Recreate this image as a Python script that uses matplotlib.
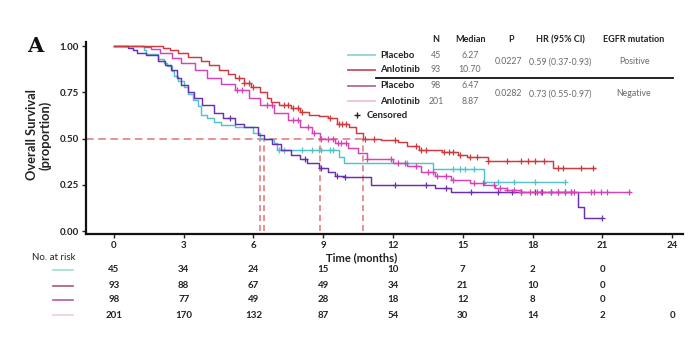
import numpy as np
import matplotlib
matplotlib.use("Agg")
import matplotlib.pyplot as plt
from matplotlib.lines import Line2D

plt.rcParams['font.family'] = ['Lato', 'DejaVu Sans']

# ---------------- data ----------------
# Kaplan-Meier step curves: event times (months) and survival after each step
pos_placebo_t = [1.3, 1.4, 1.9, 2.15, 2.3, 2.5, 2.6, 2.75, 3.0, 3.2, 3.4, 3.6, 3.75, 4.0, 4.3,
                 4.6, 5.2, 6.0, 6.27, 6.9, 7.0, 9.7, 9.9, 13.7, 15.9]
pos_placebo_s = [0.98, 0.955, 0.93, 0.91, 0.89, 0.865, 0.84, 0.81, 0.78, 0.74, 0.71, 0.675, 0.63,
                 0.61, 0.59, 0.575, 0.56, 0.53, 0.50, 0.475, 0.44, 0.40, 0.37, 0.335, 0.265]
pos_placebo_end = 19.4
pos_placebo_cens = [7.1, 7.3, 8.1, 8.5, 8.8, 8.9, 9.3, 9.4, 12.6, 14.6, 14.9, 15.1, 15.5,
                    16.5, 17.2, 18.1, 19.4]

pos_anlo_t = [2.1, 2.4, 2.75, 3.2, 3.75, 4.1, 4.5, 4.9, 5.2, 5.6, 5.9, 6.3, 6.6, 6.75, 7.1,
              7.6, 8.0, 8.4, 8.8, 9.2, 9.6, 10.1, 10.4, 10.7, 11.5, 12.2, 12.6, 13.1, 14.1,
              14.8, 15.2, 16.1, 18.9]
pos_anlo_s = [0.99, 0.98, 0.96, 0.94, 0.92, 0.90, 0.87, 0.85, 0.83, 0.80, 0.78, 0.75, 0.72,
              0.70, 0.68, 0.665, 0.645, 0.63, 0.62, 0.61, 0.58, 0.56, 0.53, 0.50, 0.49, 0.48,
              0.46, 0.44, 0.43, 0.41, 0.40, 0.38, 0.34]
pos_anlo_end = 20.7
pos_anlo_cens = [5.4, 5.6, 5.8, 6.0, 7.3, 7.5, 7.7, 7.9, 8.1, 9.3, 9.7, 9.8, 10.0, 10.8, 11.2,
                 12.1, 13.0, 13.2, 13.4, 14.2, 14.4, 14.6, 14.9, 15.3, 15.6, 16.1, 16.9, 17.5,
                 17.8, 18.1, 18.5, 19.1, 19.3, 20.1, 20.6]

neg_placebo_t = [0.6, 0.8, 1.0, 1.4, 1.9, 2.2, 2.45, 2.7, 2.9, 3.2, 3.45, 3.8, 4.3, 4.7, 5.2,
                 5.6, 6.2, 6.47, 6.8, 7.2, 7.6, 8.0, 8.3, 8.8, 9.2, 9.5, 9.9, 11.05, 13.8,
                 14.5, 19.95, 20.2]
neg_placebo_s = [0.99, 0.98, 0.96, 0.95, 0.92, 0.90, 0.87, 0.83, 0.79, 0.75, 0.72, 0.68, 0.64,
                 0.61, 0.58, 0.56, 0.52, 0.50, 0.47, 0.44, 0.41, 0.39, 0.37, 0.34, 0.32, 0.30,
                 0.29, 0.25, 0.235, 0.21, 0.13, 0.07]
neg_placebo_end = 21.0
neg_placebo_cens = [5.0, 8.2, 8.9, 9.6, 9.95, 12.1, 13.4, 14.3, 15.35, 16.5, 17.1, 17.5, 18.1,
                    18.4, 18.8, 19.1, 19.4, 19.65, 21.0]

neg_anlo_t = [1.3, 1.6, 2.0, 2.5, 2.9, 3.5, 4.0, 4.6, 5.2, 5.8, 6.3, 6.9, 7.5, 8.0, 8.5, 8.87,
              9.5, 10.05, 10.5, 10.9, 12.0, 12.6, 13.2, 13.8, 14.5, 15.3, 15.9, 16.4, 16.9,
              17.5]
neg_anlo_s = [0.995, 0.985, 0.96, 0.935, 0.91, 0.87, 0.83, 0.795, 0.76, 0.72, 0.68, 0.64, 0.60,
              0.56, 0.53, 0.50, 0.475, 0.45, 0.42, 0.39, 0.37, 0.35, 0.32, 0.30, 0.275, 0.26,
              0.25, 0.235, 0.22, 0.21]
neg_anlo_end = 22.2
neg_anlo_cens = [5.3, 5.5, 6.6, 6.8, 7.7, 7.9, 8.33, 8.62, 8.9, 9.19, 9.4, 9.62, 9.76, 9.98,
                 10.9, 11.9, 12.2, 12.5, 13.0, 13.5, 13.7, 13.9, 14.3, 14.6, 15.5, 15.85, 16.36,
                 16.6, 16.9, 17.2, 17.5, 17.9, 18.2, 18.36, 18.8, 19.1, 19.4, 19.65, 19.8, 20.5,
                 20.65, 20.94, 21.2, 22.16]

medians = [6.27, 6.47, 8.87, 10.70]

x_ticks = [0, 3, 6, 9, 12, 15, 18, 21, 24]
y_ticks = [0.00, 0.25, 0.50, 0.75, 1.00]

# numbers at risk at each x tick (None = not shown)
risk_pos_placebo = [45, 34, 24, 15, 10, 7, 2, 0, None]
risk_pos_anlo = [93, 88, 67, 49, 34, 21, 10, 0, None]
risk_neg_placebo = [98, 77, 49, 28, 18, 12, 8, 0, None]
risk_neg_anlo = [201, 170, 132, 87, 54, 30, 14, 2, 0]

legend_labels = ["Placebo", "Anlotinib", "Placebo", "Anlotinib"]
legend_n = ["45", "93", "98", "201"]
legend_median = ["6.27", "10.70", "6.47", "8.87"]
p_values = ["0.0227", "0.0282"]
hr_values = ["0.59 (0.37-0.93)", "0.73 (0.55-0.97)"]
egfr_status = ["Positive", "Negative"]

# ---------------- styling ----------------
c_cyan = "#52c3cc"
c_red = "#cf3a3f"
c_purple = "#6a2fb0"
c_magenta = "#d443b8"
c_median = "#e07474"

W, H = 696, 338
fig = plt.figure(figsize=(W / 100, H / 100), dpi=100)


def fx(px):
    return px / W


def fy(py):
    return 1 - py / H


ax_l, ax_r, ax_t, ax_b = 86, 683, 42, 234
ax = fig.add_axes([fx(ax_l), fy(ax_b), (ax_r - ax_l) / W, (ax_b - ax_t) / H])
ax.set_xlim(-1.2, 24.47)
ax.set_ylim(-0.016, 1.022)

for side in ("top", "right"):
    ax.spines[side].set_visible(False)
for side in ("left", "bottom"):
    ax.spines[side].set_linewidth(1.6)
    ax.spines[side].set_color("#111111")

ax.set_xticks(x_ticks)
ax.set_yticks(y_ticks)
ax.set_yticklabels([f"{v:.2f}" for v in y_ticks])
ax.tick_params(axis="both", direction="out", length=3, width=1, labelsize=7, pad=2,
               colors="#222222")
for lab in ax.get_xticklabels() + ax.get_yticklabels():
    lab.set_fontweight("bold")

# median reference lines
ax.plot([ax.get_xlim()[0], max(medians)], [0.5, 0.5], color=c_median, lw=1.1,
        dashes=(5, 3), zorder=1)
for m in medians:
    ax.plot([m, m], [0, 0.5], color=c_median, lw=1.1, dashes=(4, 2.5), zorder=1)


def km(t, s, end, cens, color, z):
    t = np.asarray(t)
    s = np.asarray(s)
    xs = np.r_[0, t, end]
    ys = np.r_[1.0, s, s[-1]]
    ax.step(xs, ys, where="post", color=color, lw=1.05, zorder=z)
    c = np.asarray(cens)
    idx = np.searchsorted(t, c, side="right")
    cy = np.r_[1.0, s][idx]
    ax.plot(c, cy, ls="none", marker="+", ms=4.2, mew=0.9, color=color, zorder=z)


km(pos_placebo_t, pos_placebo_s, pos_placebo_end, pos_placebo_cens, c_cyan, 3)
km(neg_placebo_t, neg_placebo_s, neg_placebo_end, neg_placebo_cens, c_purple, 4)
km(neg_anlo_t, neg_anlo_s, neg_anlo_end, neg_anlo_cens, c_magenta, 5)
km(pos_anlo_t, pos_anlo_s, pos_anlo_end, pos_anlo_cens, c_red, 6)

# axis titles
fig.text(fx(362), fy(258), "Time (months)", ha="center", va="center", fontsize=8,
         fontweight="bold", color="#222222")
fig.text(fx(39), fy(135), "Overall Survival\n(proportion)", ha="center", va="center",
         rotation=90, fontsize=9.3, fontweight="bold", color="#222222", linespacing=1.1)
fig.text(fx(35), fy(46), "A", ha="center", va="center", fontsize=15, fontweight="bold",
         family="DejaVu Serif", color="#111111")

# legend / statistics table
hdr_y = 40
row_y = [55, 70, 86, 101]
leg_colors = ["#8fd3d8", "#c9505c", "#b46a9a", "#f0c2d2"]
hdr_kw = dict(ha="center", va="center", fontsize=6.5, fontweight="bold", color="#222222")
fig.text(fx(436), fy(hdr_y), "N", **hdr_kw)
fig.text(fx(470), fy(hdr_y), "Median", **hdr_kw)
fig.text(fx(511), fy(hdr_y), "P", **hdr_kw)
fig.text(fx(560), fy(hdr_y), "HR (95% CI)", **hdr_kw)
fig.text(fx(634), fy(hdr_y), "EGFR mutation", **hdr_kw)

val_kw = dict(ha="center", va="center", fontsize=6.3, color="#6a6a6a")
for i in range(4):
    fig.add_artist(Line2D([fx(348), fx(375)], [fy(row_y[i]), fy(row_y[i])],
                          color=leg_colors[i], lw=1.3))
    fig.text(fx(380), fy(row_y[i]), legend_labels[i], ha="left", va="center", fontsize=6.9,
             fontweight="bold", color="#222222")
    fig.text(fx(436), fy(row_y[i]), legend_n[i], **val_kw)
    fig.text(fx(470), fy(row_y[i]), legend_median[i], **val_kw)

grp_y = [62, 94]
for j in range(2):
    fig.text(fx(508), fy(grp_y[j]), p_values[j], **val_kw)
    fig.text(fx(560), fy(grp_y[j]), hr_values[j], **val_kw)
    fig.text(fx(634), fy(grp_y[j]), egfr_status[j], **val_kw)

fig.add_artist(Line2D([fx(376), fx(673)], [fy(77.5), fy(77.5)], color="#111111", lw=1.3))
fig.add_artist(Line2D([fx(357)], [fy(115)], marker="+", ms=4.5, mew=1.0, color="#222222"))
fig.text(fx(367), fy(115), "Censored", ha="left", va="center", fontsize=6.9,
         fontweight="bold", color="#222222")

# numbers-at-risk table
fig.text(fx(54), fy(258), "No. at risk", ha="center", va="center", fontsize=7,
         color="#222222")
risk_rows = [risk_pos_placebo, risk_pos_anlo, risk_neg_placebo, risk_neg_anlo]
risk_y = [270, 286, 300, 315]
risk_colors = ["#9fdcd6", "#a8587a", "#b25ab0", "#efcfd6"]
trans = matplotlib.transforms.blended_transform_factory(ax.transData, fig.transFigure)
for row, yy, col in zip(risk_rows, risk_y, risk_colors):
    fig.add_artist(Line2D([fx(53), fx(73)], [fy(yy), fy(yy)], color=col, lw=1.2))
    for xt, v in zip(x_ticks, row):
        if v is None:
            continue
        ax.text(xt, fy(yy), str(v), transform=trans, ha="center", va="center", fontsize=7,
                fontweight="bold", color="#222222", clip_on=False)

fig.savefig("out.png", dpi=100, facecolor="white")
